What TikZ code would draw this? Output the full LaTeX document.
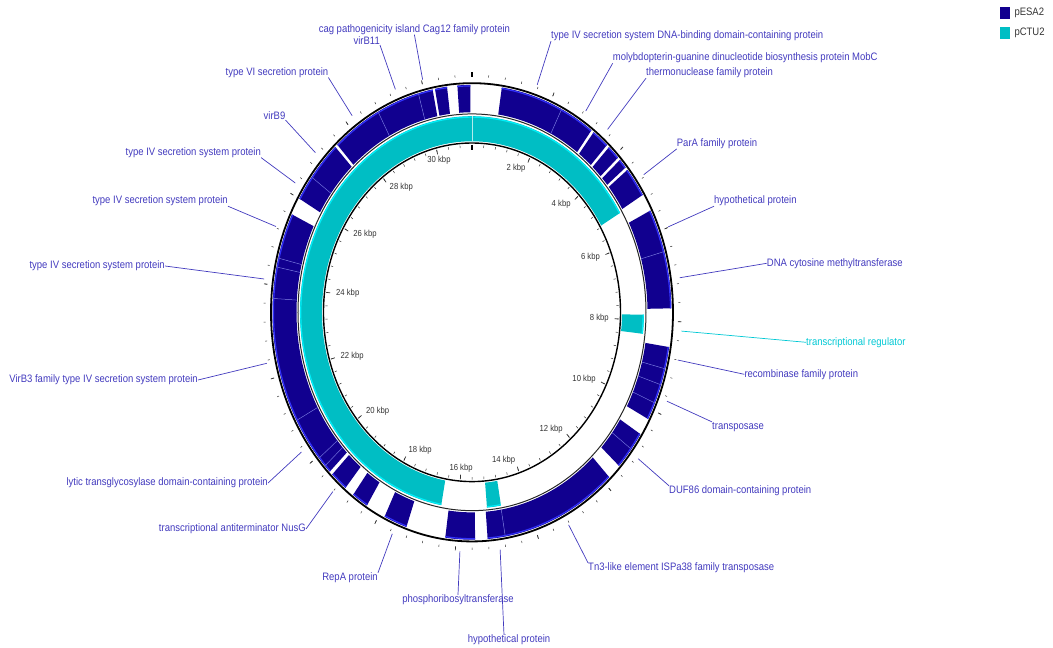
\documentclass[tikz,border=0pt]{standalone}
\usepackage{fontspec}
\newfontfamily\lblfont[FakeStretch=0.88]{Liberation Sans}
\definecolor{ESAcolor}{RGB}{17, 0, 143}
\definecolor{ESAedge}{RGB}{48, 48, 250}
\definecolor{ESAdiv}{RGB}{105, 105, 215}
\definecolor{CTUcolor}{RGB}{0, 190, 196}
\definecolor{CTUedge}{RGB}{0, 238, 248}
\definecolor{LBLcolor}{RGB}{66, 58, 190}
\definecolor{REGcolor}{RGB}{0, 200, 212}
\def\rOut{201}
\def\rMid{174}
\def\rIn{148.5}
\def\rFo{199.5}
\def\rFi{175.5}
\def\rCo{172}
\def\rCi{150}
\def\rLead{210}
\def\rTick{137}
\def\stretch{1.14}

\begin{document}
\begin{tikzpicture}[x=1pt, y=1pt,
    lbl/.style={font=\lblfont\fontsize{10.8}{12}\selectfont, text=LBLcolor, inner sep=0pt},
    ticklbl/.style={font=\lblfont\fontsize{8.75}{10}\selectfont, text=black!80, inner sep=0pt},
    leadline/.style={draw=LBLcolor, line width=0.7pt},
    tickline/.style={black!80, line width=0.5pt}]
    \useasboundingbox (-472, -335.7) rectangle (581, 312.3);
    \begin{scope}[yscale=\stretch]
        % pESA2 track
        \foreach \a/\b in {8.6/26.7, 26.7/36.8, 37.6/42.6, 43.4/47.1, 47.9/50.4, 51.2/58.9,
                63.4/74.5, 74.5/89, 98.8/104.4, 104.4/108.6, 108.6/113.5, 113.5/118,
                122.4/127, 127/132.5, 136.5/170.4, 170.4/175.5, 179.1/187.7, 199.2/206,
                211.8/216.6, 219.4/224.5, 225.5/227.5, 227.5/230.1, 230.1/241.6,
                241.6/273.5, 273.5/281.5, 281.5/283.8, 283.8/295.5, 300/306.5,
                306.5/316.7, 317.5/331.9, 331.9/344.4, 344.4/348.6, 349.3/352.8, 355.8/359.5} {
            \fill[ESAcolor] ({90-\a}:\rFo) arc[start angle={90-\a}, end angle={90-\b}, radius=\rFo]
                -- ({90-\b}:\rFi) arc[start angle={90-\b}, end angle={90-\a}, radius=\rFi] -- cycle;
            \draw[ESAedge, line width=1.2pt] ({90-\a}:198.6) arc[start angle={90-\a}, end angle={90-\b}, radius=198.6];
        }
        \foreach \d in {26.7, 74.5, 104.4, 108.6, 113.5, 127, 170.4, 227.5, 230.1, 241.6,
                273.5, 281.5, 283.8, 306.5, 331.9, 344.4}
            \draw[ESAdiv, line width=0.5pt] ({90-\d}:\rFi) -- ({90-\d}:\rFo);
        % pCTU2 track
        \foreach \a/\b in {190.3/419.5, 90.7/96.3, 170.3/175} {
            \fill[CTUcolor] ({90-\a}:\rCo) arc[start angle={90-\a}, end angle={90-\b}, radius=\rCo]
                -- ({90-\b}:\rCi) arc[start angle={90-\b}, end angle={90-\a}, radius=\rCi] -- cycle;
            \draw[CTUedge, line width=1.2pt] ({90-\a}:171.2) arc[start angle={90-\a}, end angle={90-\b}, radius=171.2];
        }
        \draw[white!70!CTUcolor, line width=0.5pt] (90:\rCi) -- (90:\rCo);
        % rings
        \draw[line width=1.8pt] (0, 0) circle[radius=\rOut];
        \draw[black!85, line width=1pt] (0, 0) circle[radius=\rMid];
        \draw[line width=1.4pt] (0, 0) circle[radius=\rIn];
        % ticks
        \foreach \i in {0,...,77} {
            \draw[tickline] ({90-\i*4.6142}:206.5) -- ({90-\i*4.6142}:208.5);
            \draw[tickline] ({90-\i*4.6142}:146.8) -- ({90-\i*4.6142}:144.6);
        }
        \foreach \i in {5,10,...,75} {
            \draw[tickline, line width=0.7pt] ({90-\i*4.6142}:206) -- ({90-\i*4.6142}:209.5);
            \draw[tickline, line width=0.7pt] ({90-\i*4.6142}:146.8) -- ({90-\i*4.6142}:142.8);
        }
        \draw[line width=1.6pt] (90:206.5) -- (90:211);
        \draw[line width=1.6pt] (90:146.8) -- (90:142);
        \foreach \k/\kb/\anc in {1/2/east, 2/4/east, 3/6/east, 4/8/east, 5/10/east, 6/12/east,
                7/14/east, 8/16/center, 9/18/west, 10/20/west, 11/22/west, 12/24/west,
                13/26/west, 14/28/west, 15/30/center}
            \node[ticklbl, anchor=\anc] (k\kb) at ({90-\k*23.071}:\rTick) {\kb\ kbp};
        % leader ends
        \foreach \n/\a in {cag/346.4, virB11/338.6, typeVI/325.2, virB9/311.8, tfsA/302.7,
                tfsB/291, tfsC/278, virB3/257.7, lytic/234.3, nusG/221.5, repA/202.3,
                prt/183.3, hypB/172.3, tn3/152.6, duf/127.7, tnp/111.8, rec/101.5, reg/94.5,
                dcm/81.7, hypA/69.1, parA/54.9, thn/40.2, mobC/32.8, tfsDNA/18.1}
            \coordinate (p-\n) at ({90-\a}:\rLead);
    \end{scope}
    % labels left
    \node[lbl] (l-cag) at (-57.6, 282.9) {cag pathogenicity island Cag12 family protein};
    \node[lbl, anchor=east] (l-virB11) at (-92, 271.4) {virB11};
    \node[lbl, anchor=east] (l-typeVI) at (-143.6, 240) {type VI secretion protein};
    \node[lbl, anchor=east] (l-virB9) at (-186.5, 196.4) {virB9};
    \node[lbl, anchor=east] (l-tfsA) at (-210.9, 159.9) {type IV secretion system protein};
    \node[lbl, anchor=east] (l-tfsB) at (-244, 111.3) {type IV secretion system protein};
    \node[lbl, anchor=east] (l-tfsC) at (-307, 46.3) {type IV secretion system protein};
    \node[lbl, anchor=east] (l-virB3) at (-274, -67.7) {VirB3 family type IV secretion system protein};
    \node[lbl, anchor=east] (l-lytic) at (-204, -170.7) {lytic transglycosylase domain-containing protein};
    \node[lbl, anchor=east] (l-nusG) at (-166, -216.7) {transcriptional antiterminator NusG};
    \node[lbl, anchor=east] (l-repA) at (-94, -265.7) {RepA protein};
    \node[lbl] (l-prt) at (-14, -287.7) {phosphoribosyltransferase};
    \node[lbl] (l-hypB) at (37, -327.7) {hypothetical protein};
    % labels right
    \node[lbl, anchor=west] (l-tn3) at (116, -255.7) {Tn3-like element ISPa38 family transposase};
    \node[lbl, anchor=west] (l-duf) at (197, -178.7) {DUF86 domain-containing protein};
    \node[lbl, anchor=west] (l-tnp) at (240, -114.4) {transposase};
    \node[lbl, anchor=west] (l-rec) at (272.3, -62) {recombinase family protein};
    \node[lbl, anchor=west, text=REGcolor] (l-reg) at (334, -30) {transcriptional regulator};
    \node[lbl, anchor=west] (l-dcm) at (294.7, 49) {DNA cytosine methyltransferase};
    \node[lbl, anchor=west] (l-hypA) at (242, 111.3) {hypothetical protein};
    \node[lbl, anchor=west] (l-parA) at (204.7, 168.6) {ParA family protein};
    \node[lbl, anchor=west] (l-thn) at (174, 239.3) {thermonuclease family protein};
    \node[lbl, anchor=west] (l-mobC) at (140.7, 254.3) {molybdopterin-guanine dinucleotide biosynthesis protein MobC};
    \node[lbl, anchor=west] (l-tfsDNA) at (79, 276.3) {type IV secretion system DNA-binding domain-containing protein};
    % leaders
    \draw[leadline] (l-cag.south) -- (p-cag);
    \draw[leadline] (l-virB11.south east) -- (p-virB11);
    \draw[leadline] (l-typeVI.south east) -- (p-typeVI);
    \draw[leadline] (l-virB9.south east) -- (p-virB9);
    \draw[leadline] (l-tfsA.south east) -- (p-tfsA);
    \draw[leadline] (l-tfsB.south east) -- (p-tfsB);
    \draw[leadline] (l-tfsC.east) -- (p-tfsC);
    \draw[leadline] (l-virB3.east) -- (p-virB3);
    \draw[leadline] (l-lytic.east) -- (p-lytic);
    \draw[leadline] (l-nusG.east) -- (p-nusG);
    \draw[leadline] (l-repA.north east) -- (p-repA);
    \draw[leadline] (l-prt.north) -- (p-prt);
    \draw[leadline] ([xshift=-5pt]l-hypB.north) -- (p-hypB);
    \draw[leadline] (l-tn3.north west) -- (p-tn3);
    \draw[leadline] (l-duf.north west) -- (p-duf);
    \draw[leadline] (l-tnp.north west) -- (p-tnp);
    \draw[leadline] (l-rec.west) -- (p-rec);
    \draw[leadline, draw=REGcolor] (l-reg.west) -- (p-reg);
    \draw[leadline] (l-dcm.west) -- (p-dcm);
    \draw[leadline] (l-hypA.south west) -- (p-hypA);
    \draw[leadline] (l-parA.south west) -- (p-parA);
    \draw[leadline] (l-thn.south west) -- (p-thn);
    \draw[leadline] (l-mobC.south west) -- (p-mobC);
    \draw[leadline] (l-tfsDNA.south west) -- (p-tfsDNA);
    % legend
    \node[fill=ESAcolor, minimum width=10, minimum height=12, inner sep=0pt] (legESA) at (533, 299) {};
    \node[fill=CTUcolor, minimum width=10, minimum height=12, inner sep=0pt] (legCTU) at (533, 279.5) {};
    \node[ticklbl, font=\lblfont\fontsize{10.8}{12}\selectfont, anchor=west] (legESAtxt) at (542.3, 299) {pESA2};
    \node[ticklbl, font=\lblfont\fontsize{10.8}{12}\selectfont, anchor=west] (legCTUtxt) at (542.3, 279.5) {pCTU2};
\end{tikzpicture}
\end{document}
